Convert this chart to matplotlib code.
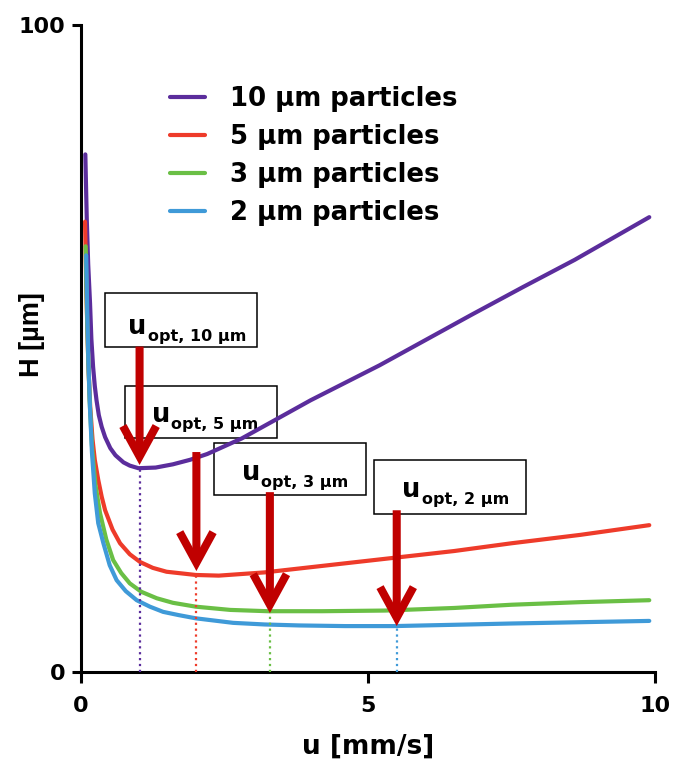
import matplotlib
matplotlib.use('Agg')
import matplotlib.pyplot as plt
from matplotlib.patches import Rectangle, FancyArrowPatch

plt.rcParams['font.family'] = ['DejaVu Sans']
plt.rcParams['font.weight'] = 'bold'

# van Deemter curves (u in mm/s, H in um)
u_10 = [0.075, 0.10, 0.125, 0.157, 0.18, 0.21, 0.24, 0.27, 0.31, 0.36, 0.42, 0.51, 0.6, 0.74, 0.85, 1.0, 1.3, 1.6, 1.9, 2.2, 2.8, 3.35, 4.0, 5.2, 6.0, 6.8, 7.7, 8.6, 9.9]
H_10 = [80.0, 70.0, 63.0, 57.0, 51.5, 47.2, 44.2, 42.0, 39.7, 37.9, 36.3, 34.6, 33.5, 32.4, 31.9, 31.5, 31.6, 32.1, 32.8, 33.7, 36.1, 38.8, 42.0, 47.4, 51.3, 55.2, 59.5, 63.7, 70.3]

u_5 = [0.07, 0.09, 0.11, 0.13, 0.16, 0.2, 0.24, 0.3, 0.36, 0.42, 0.55, 0.68, 0.85, 1.03, 1.25, 1.49, 2.0, 2.4, 3.2, 4.3, 5.4, 6.5, 7.5, 8.7, 9.9]
H_5 = [69.6, 60.0, 53.0, 47.0, 41.0, 36.0, 32.8, 29.7, 27.1, 25.0, 22.0, 19.9, 18.2, 17.0, 16.1, 15.5, 15.0, 14.9, 15.4, 16.5, 17.6, 18.7, 19.9, 21.2, 22.7]

u_3 = [0.08, 0.10, 0.12, 0.15, 0.19, 0.25, 0.33, 0.44, 0.56, 0.7, 0.85, 1.05, 1.32, 1.6, 2.0, 2.6, 3.25, 4.2, 5.3, 6.5, 7.5, 8.7, 9.9]
H_3 = [65.8, 57.0, 50.0, 42.0, 35.0, 29.0, 24.6, 20.5, 17.3, 15.3, 13.7, 12.4, 11.4, 10.7, 10.1, 9.6, 9.4, 9.4, 9.5, 9.9, 10.4, 10.8, 11.1]

u_2 = [0.09, 0.11, 0.13, 0.155, 0.19, 0.24, 0.3, 0.39, 0.5, 0.62, 0.78, 0.97, 1.2, 1.43, 1.7, 2.0, 2.65, 3.2, 3.8, 4.6, 5.45, 6.5, 7.5, 8.7, 9.9]
H_2 = [64.4, 55.0, 47.5, 41.0, 34.0, 27.6, 23.0, 19.9, 16.5, 14.2, 12.5, 11.1, 10.1, 9.3, 8.8, 8.3, 7.6, 7.35, 7.2, 7.1, 7.1, 7.3, 7.5, 7.7, 7.9]

labels = ['10 µm particles', '5 µm particles', '3 µm particles', '2 µm particles']
colors = ['#5b2d9c', '#ee3b2a', '#6abf45', '#3f9ad8']

# optimum velocities and the minima of each curve
u_opt = [1.02, 2.01, 3.29, 5.50]
H_min = [31.2, 14.8, 9.3, 7.0]
opt_names = ['10 µm', '5 µm', '3 µm', '2 µm']
arrow_top = [50.3, 34.0, 27.8, 25.0]
arrow_tip = [32.0, 15.6, 9.1, 7.1]

# label boxes (left, bottom, width, height) and "u" anchor, in data units
boxes = [(0.418, 50.3, 2.64, 8.25), (0.767, 36.1, 2.64, 8.1),
         (2.31, 27.3, 2.65, 8.1), (5.10, 24.5, 2.65, 8.2)]
u_text = [(0.824, 52.3), (1.23, 38.7), (2.80, 29.7), (5.59, 27.0)]

fig = plt.figure(figsize=(6.78, 7.69), dpi=100)
ax = fig.add_axes([0.1195, 0.1261, 0.8466, 0.8414])

for (l, b, w, h) in boxes:
    ax.add_patch(Rectangle((l, b), w, h, facecolor='white', edgecolor='black', lw=1.1, zorder=1))

for (x, y), name in zip(u_text, opt_names):
    t = ax.text(x, y, 'u', fontsize=18.5, fontweight='bold', ha='left', va='baseline', zorder=2)
    ax.annotate('opt, ' + name, xy=(1, 0), xycoords=t, xytext=(1, -3), textcoords='offset points',
                fontsize=11.5, fontweight='bold', ha='left', va='bottom', zorder=2)

curves = [(u_10, H_10), (u_5, H_5), (u_3, H_3), (u_2, H_2)]
for (u, H), c, lab in zip(curves, colors, labels):
    ax.plot(u, H, color=c, lw=3, label=lab, zorder=3, solid_capstyle='round', solid_joinstyle='round')

for x, y, c in zip(u_opt, H_min, colors):
    ax.plot([x, x], [0, y], ':', color=c, lw=1.6, zorder=3)

for x, top, tip in zip(u_opt, arrow_top, arrow_tip):
    arr = FancyArrowPatch((x, top), (x, tip), arrowstyle='->,head_length=22,head_width=12',
                          mutation_scale=1, color='#c00000', lw=5.8, shrinkA=0, shrinkB=0,
                          joinstyle='miter', capstyle='butt', zorder=4)
    ax.add_patch(arr)

ax.set_xlim(0, 10)
ax.set_ylim(0, 100)
ax.set_xticks([0, 5, 10])
ax.set_yticks([0, 100])
for s in ['top', 'right']:
    ax.spines[s].set_visible(False)
for s in ['left', 'bottom']:
    ax.spines[s].set_linewidth(2.2)
ax.tick_params(axis='x', length=8, width=2.2, labelsize=16, pad=9)
ax.tick_params(axis='y', length=6.5, width=2.2, labelsize=16, pad=5)
for lbl in ax.get_xticklabels() + ax.get_yticklabels():
    lbl.set_fontweight('bold')

ax.set_xlabel('u [mm/s]', fontsize=19, fontweight='bold')
ax.xaxis.set_label_coords(0.5, -0.096)
ax.set_ylabel('H [µm]', fontsize=19.5, fontweight='bold', family=['Liberation Sans'])
ax.yaxis.set_label_coords(-0.062, 0.521)

ax.legend(loc='upper left', bbox_to_anchor=(0.155, 0.906), frameon=False, fontsize=18.7,
          handlelength=1.35, handletextpad=0.96, labelspacing=0.47, borderpad=0, borderaxespad=0)

fig.savefig('out.png', dpi=100)
